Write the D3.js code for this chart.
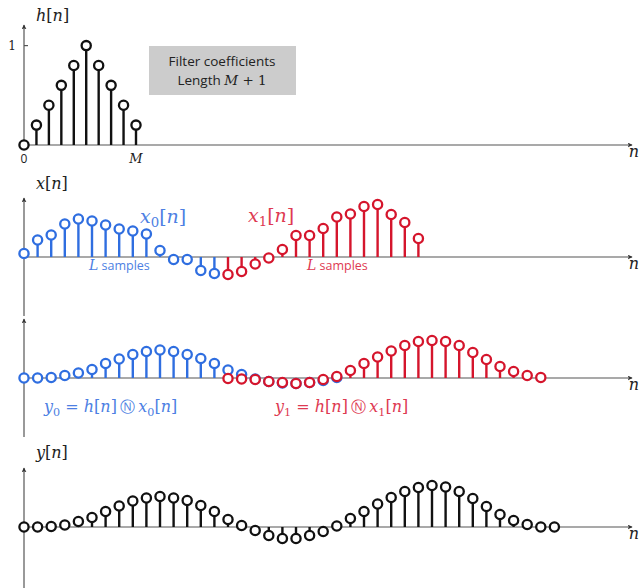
<!DOCTYPE html>
<html>
<head>
<meta charset="utf-8">
<script src="https://cdn.jsdelivr.net/npm/d3@7"></script>
<style>
  body { margin: 0; background: #fff; }
  svg { display: block; }
  .math { font-family: "DejaVu Serif", serif; }
</style>
</head>
<body>
<svg id="chart"></svg>
<script>
// filter coefficients h[n], n = 0..M
const hValues = [0, 0.2, 0.4, 0.6, 0.8, 1, 0.8, 0.6, 0.4, 0.2]
// input blocks x0[n] (n = 0..14) and x1[n] (n = 15..29)
const x0Values = [0.07, 0.34, 0.44, 0.66, 0.76, 0.72, 0.64, 0.56, 0.52, 0.46, 0.13, -0.05, -0.05, -0.27, -0.33]
const x1Values = [-0.35, -0.29, -0.14, -0.02, 0.15, 0.43, 0.43, 0.57, 0.8, 0.86, 1.01, 1.05, 0.85, 0.69, 0.37]
const x1Start = 15
// block convolutions y0 (n = 0..23) and y1 (n = 15..38)
const y0Values = [0, 0, 0.01, 0.05, 0.1, 0.17, 0.29, 0.38, 0.47, 0.53, 0.56, 0.53, 0.47, 0.39, 0.29, 0.16, 0.07, -0.02, -0.07, -0.1, -0.11, -0.09, -0.05, 0.01]
const y1Values = [-0.01, -0.02, -0.03, -0.07, -0.09, -0.11, -0.09, -0.03, 0.03, 0.15, 0.29, 0.42, 0.54, 0.65, 0.73, 0.75, 0.73, 0.65, 0.51, 0.37, 0.23, 0.13, 0.05, 0.01]
const y1Start = 15
// overlap-add output y[n]
const yValues = [0, 0, 0.01, 0.04, 0.11, 0.19, 0.31, 0.42, 0.52, 0.58, 0.61, 0.58, 0.53, 0.43, 0.31, 0.15, 0.03, -0.07, -0.17, -0.23, -0.23, -0.17, -0.09, 0.02, 0.17, 0.31, 0.46, 0.59, 0.71, 0.79, 0.83, 0.8, 0.71, 0.57, 0.41, 0.25, 0.13, 0.05, 0, 0]

const width = 642, height = 588
const blue = '#2f6ee0', blueText = '#4d7fe3'
const red = '#d5152c', redText = '#de3a52'
const axisColor = '#555'
const sans = 'Open Sans'

const svg = d3.select('#chart').attr('width', width).attr('height', height)

svg.append('defs').append('marker')
  .attr('id', 'arrow')
  .attr('viewBox', '0 0 8 8')
  .attr('refX', 7).attr('refY', 4)
  .attr('markerWidth', 5).attr('markerHeight', 5)
  .attr('markerUnits', 'userSpaceOnUse')
  .attr('orient', 'auto')
  .append('path').attr('d', 'M0,0 L8,4 L0,8 L2,4 z').attr('fill', '#333')

// scales
const xLeft = 24, xEnd = 632
const xh = d3.scaleLinear().domain([0, 9]).range([xLeft, 136])
const xn = d3.scaleLinear().domain([0, 38]).range([xLeft, 540.8])

const panels = [
  { base: 145, top: 25, bottom: 145 },
  { base: 257, top: 198, bottom: 316 },
  { base: 378, top: 319, bottom: 437 },
  { base: 527, top: 468, bottom: 588 }
]
const yh = d3.scaleLinear().domain([0, 1]).range([145, 45.6])
const yScale = p => d3.scaleLinear().domain([-1, 1]).range([p.base + 50, p.base - 50])

// mixed italic / roman math labels
function mathText (g, x, y, parts, opts = {}) {
  const size = opts.size || 16
  const t = g.append('text')
    .attr('class', 'math')
    .attr('x', x).attr('y', y)
    .attr('font-size', size)
    .attr('fill', opts.color || '#222')
    .attr('text-anchor', opts.anchor || 'start')
  let shift = 0
  parts.forEach(([s, kind]) => {
    const ts = t.append('tspan').text(s)
    let dy = 0
    if (kind === 'sub') {
      dy = 4 - shift; shift = 4
      ts.attr('font-size', size * 0.7)
    } else {
      dy = -shift; shift = 0
    }
    if (dy) ts.attr('dy', dy)
    if (kind === 'i') ts.style('font-style', 'italic')
    if (kind === 'sym') ts.style('font-family', 'DejaVu Sans').attr('font-size', size * 0.95)
  })
  return t
}

function drawAxes (p) {
  svg.append('line')
    .attr('x1', xLeft).attr('x2', xLeft)
    .attr('y1', p.bottom).attr('y2', p.top)
    .attr('stroke', axisColor).attr('stroke-width', 1.2)
    .attr('marker-end', 'url(#arrow)')
  svg.append('line')
    .attr('x1', xLeft).attr('x2', xEnd)
    .attr('y1', p.base).attr('y2', p.base)
    .attr('stroke', axisColor).attr('stroke-width', 1.2)
    .attr('marker-end', 'url(#arrow)')
  mathText(svg, 634, p.base + 12, [['n', 'i']], { size: 16, anchor: 'middle' })
}

function stems (data, x, y, base, color) {
  const g = svg.append('g')
  g.selectAll('line')
    .data(data.filter(d => Math.abs(y(d.v) - base) > 4))
    .join('line')
    .attr('x1', d => x(d.n)).attr('x2', d => x(d.n))
    .attr('y1', base).attr('y2', d => y(d.v))
    .attr('stroke', color).attr('stroke-width', 2.4)
  g.selectAll('circle')
    .data(data)
    .join('circle')
    .attr('cx', d => x(d.n)).attr('cy', d => y(d.v))
    .attr('r', 4.6)
    .attr('fill', '#fff')
    .attr('stroke', color).attr('stroke-width', 2.3)
}

const seq = (arr, start = 0) => arr.map((v, i) => ({ n: start + i, v }))

// ---- panel 1: h[n]
panels.forEach(drawAxes)
const p1 = panels[0]
svg.append('line')
  .attr('x1', xLeft).attr('x2', xLeft + 4)
  .attr('y1', yh(1)).attr('y2', yh(1))
  .attr('stroke', axisColor).attr('stroke-width', 1.2)
svg.append('text').attr('class', 'math').attr('x', 12).attr('y', yh(1) + 4.5)
  .attr('text-anchor', 'middle').attr('font-size', 12)
  .attr('fill', '#222').text('1')
mathText(svg, 36, 21, [['h', 'i'], ['[', 'r'], ['n', 'i'], [']', 'r']])
stems(seq(hValues), xh, yh, p1.base, '#111')
svg.append('text').attr('x', xh(0)).attr('y', 163)
  .attr('text-anchor', 'middle').style('font-family', sans).attr('font-size', 12)
  .attr('fill', '#222').text('0')
mathText(svg, xh(9), 163, [['M', 'i']], { size: 13, anchor: 'middle' })

svg.append('rect').attr('x', 149).attr('y', 46).attr('width', 147).attr('height', 49)
  .attr('fill', '#cccccc')
svg.append('text').attr('x', 222).attr('y', 66)
  .attr('text-anchor', 'middle').style('font-family', sans).attr('font-size', 13.5)
  .attr('fill', '#222').text('Filter coefficients')
const lt = svg.append('text').attr('x', 222).attr('y', 85)
  .attr('text-anchor', 'middle').style('font-family', sans).attr('font-size', 13.5)
  .attr('fill', '#222')
lt.append('tspan').text('Length ')
lt.append('tspan').attr('class', 'math').style('font-style', 'italic').attr('font-size', 13.5).text('M')
lt.append('tspan').attr('class', 'math').attr('font-size', 13.5).text(' + 1')

// ---- panel 2: x[n] split into blocks
const p2 = panels[1], y2 = yScale(p2)
mathText(svg, 36, 189, [['x', 'i'], ['[', 'r'], ['n', 'i'], [']', 'r']])
stems(seq(x0Values), xn, y2, p2.base, blue)
stems(seq(x1Values, x1Start), xn, y2, p2.base, red)
mathText(svg, 140, 223, [['x', 'i'], ['0', 'sub'], ['[', 'r'], ['n', 'i'], [']', 'r']], { size: 19, color: blueText })
mathText(svg, 248, 222, [['x', 'i'], ['1', 'sub'], ['[', 'r'], ['n', 'i'], [']', 'r']], { size: 19, color: redText })
function samplesLabel (x, color) {
  const t = svg.append('text').attr('x', x).attr('y', 270)
    .style('font-family', sans).attr('font-size', 12.5).attr('fill', color)
  t.append('tspan').attr('class', 'math').style('font-style', 'italic').attr('font-size', 14).text('L')
  t.append('tspan').text(' samples')
}
samplesLabel(89, blueText)
samplesLabel(307, redText)

// ---- panel 3: block convolutions
const p3 = panels[2], y3 = yScale(p3)
stems(seq(y0Values), xn, y3, p3.base, blue)
stems(seq(y1Values, y1Start), xn, y3, p3.base, red)
const convParts = k => [['y', 'i'], [k, 'sub'], [' = ', 'r'], ['h', 'i'], ['[', 'r'], ['n', 'i'], [']\u2009', 'r'],
  ['Ⓝ', 'sym'], ['\u2009', 'r'], ['x', 'i'], [k, 'sub'], ['[', 'r'], ['n', 'i'], [']', 'r']]
mathText(svg, 44, 412, convParts('0'), { size: 16, color: blueText })
mathText(svg, 275, 412, convParts('1'), { size: 16, color: redText })

// ---- panel 4: overlap-add output
const p4 = panels[3], y4 = yScale(p4)
mathText(svg, 36, 458, [['y', 'i'], ['[', 'r'], ['n', 'i'], [']', 'r']])
stems(seq(yValues), xn, y4, p4.base, '#111')
</script>
</body>
</html>
